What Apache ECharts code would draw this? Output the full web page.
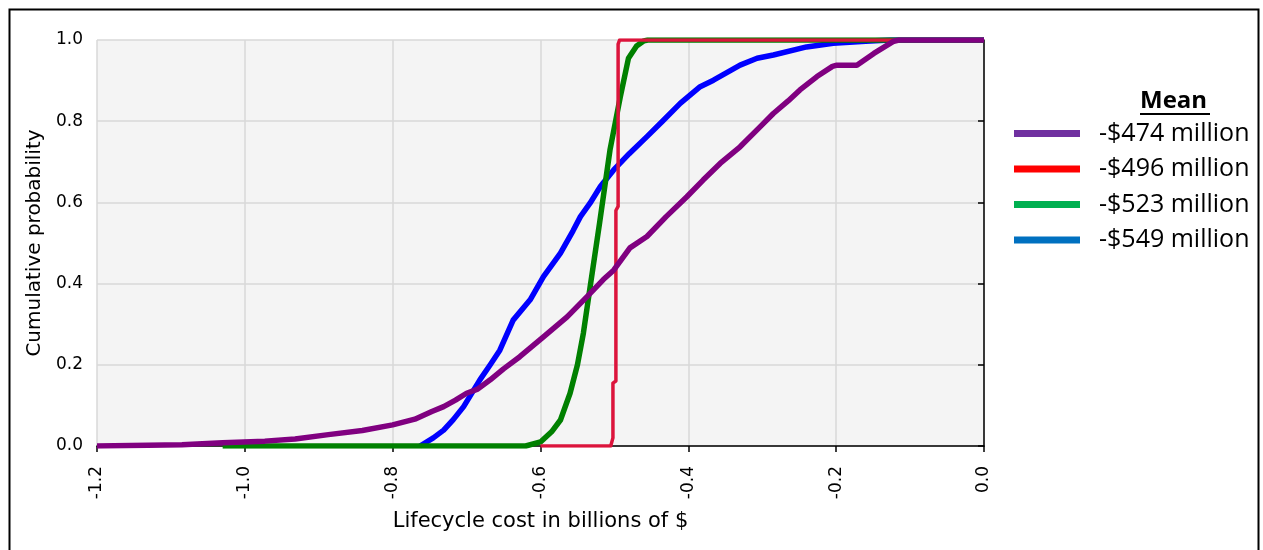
<!DOCTYPE html>
<html>
<head>
<meta charset="utf-8">
<script src="https://cdn.jsdelivr.net/npm/echarts@6/dist/echarts.min.js"></script>
<style>
  html, body { margin: 0; padding: 0; background: #fff; }
  #chart { width: 1263px; height: 550px; }
</style>
</head>
<body>
<div id="chart"></div>
<script>
// x ticks (billions of $) and legend labels
const xTicks = [-1.2, -1.0, -0.8, -0.6, -0.4, -0.2, 0.0]
const meanLabels = ['-$474 million', '-$496 million', '-$523 million', '-$549 million']

// purple  (-$474 million)
const purpleX = [-1.2, -1.085, -1.03, -0.973, -0.932, -0.887, -0.841, -0.8, -0.77, -0.747, -0.731, -0.715, -0.7, -0.685, -0.668, -0.65, -0.628, -0.596, -0.564, -0.537, -0.515, -0.501, -0.479, -0.456, -0.43, -0.402, -0.38, -0.357, -0.33, -0.303, -0.285, -0.265, -0.249, -0.226, -0.205, -0.199, -0.172, -0.149, -0.122, -0.115, 0]
const purpleY = [0, 0.003, 0.008, 0.012, 0.017, 0.028, 0.038, 0.052, 0.066, 0.085, 0.097, 0.113, 0.13, 0.14, 0.163, 0.19, 0.22, 0.269, 0.318, 0.368, 0.41, 0.433, 0.488, 0.516, 0.565, 0.614, 0.655, 0.696, 0.737, 0.786, 0.819, 0.85, 0.877, 0.91, 0.935, 0.938, 0.938, 0.967, 0.997, 1, 1]

// red  (-$496 million)
const redX = [-0.6, -0.505, -0.502, -0.502, -0.498, -0.498, -0.495, -0.495, -0.493, 0]
const redY = [0, 0, 0.02, 0.155, 0.16, 0.58, 0.59, 0.99, 1, 1]

// green  (-$523 million)
const greenX = [-1.03, -0.62, -0.6, -0.585, -0.573, -0.56, -0.55, -0.542, -0.533, -0.52, -0.506, -0.492, -0.481, -0.47, -0.46, -0.455, 0]
const greenY = [0, 0, 0.01, 0.035, 0.064, 0.13, 0.2, 0.278, 0.39, 0.55, 0.729, 0.86, 0.955, 0.985, 0.998, 1, 1]

// blue  (-$549 million)
const blueX = [-0.763, -0.745, -0.731, -0.718, -0.704, -0.682, -0.668, -0.655, -0.637, -0.614, -0.596, -0.573, -0.556, -0.546, -0.533, -0.519, -0.501, -0.48, -0.456, -0.435, -0.411, -0.384, -0.366, -0.33, -0.307, -0.285, -0.24, -0.204, -0.16, -0.127, 0]
const blueY = [0, 0.02, 0.039, 0.065, 0.097, 0.163, 0.2, 0.236, 0.31, 0.36, 0.417, 0.475, 0.53, 0.565, 0.598, 0.639, 0.68, 0.72, 0.762, 0.8, 0.844, 0.885, 0.901, 0.938, 0.955, 0.963, 0.983, 0.992, 0.997, 1, 1]

const zip = (xs, ys) => xs.map((x, i) => [x, ys[i]])

const axisFont = 'DejaVu Sans'
const legendFont = 'Open Sans'

function lineSeries(name, xs, ys, color, width) {
  return {
    name: name,
    type: 'line',
    data: zip(xs, ys),
    showSymbol: false,
    symbol: 'none',
    animation: false,
    itemStyle: { color: color },
    lineStyle: { color: color, width: width, join: 'round' }
  }
}

const option = {
  animation: false,
  grid: {
    left: 97, right: 279, top: 40, bottom: 104,
    show: true, backgroundColor: '#f4f4f4', borderWidth: 0
  },
  xAxis: {
    type: 'value',
    min: xTicks[0],
    max: xTicks[xTicks.length - 1],
    interval: 0.2,
    name: 'Lifecycle cost in billions of $',
    nameLocation: 'middle',
    nameGap: 65,
    nameTextStyle: { fontFamily: axisFont, fontSize: 21, color: '#000' },
    axisLine: { show: true, onZero: false, lineStyle: { color: '#000', width: 1.5 } },
    axisTick: { show: true, length: 6, lineStyle: { color: '#000', width: 1.5 } },
    axisLabel: {
      rotate: 90, margin: 20, color: '#000', fontFamily: axisFont, fontSize: 17,
      formatter: v => v.toFixed(1)
    },
    splitLine: { show: true, lineStyle: { color: '#d9d9d9', width: 1.5 } }
  },
  yAxis: {
    type: 'value',
    min: 0, max: 1, interval: 0.2,
    name: 'Cumulative probability',
    nameLocation: 'middle',
    nameGap: 52,
    nameTextStyle: { fontFamily: axisFont, fontSize: 20, color: '#000' },
    axisLine: { show: true, lineStyle: { color: '#000', width: 1.5 } },
    axisTick: { show: true, length: 6, lineStyle: { color: '#000', width: 1.5 } },
    axisLabel: {
      margin: 14, color: '#000', fontFamily: axisFont, fontSize: 17,
      formatter: v => v.toFixed(1)
    },
    splitLine: { show: true, lineStyle: { color: '#d9d9d9', width: 1.5 } }
  },
  legend: {
    orient: 'vertical',
    left: 1009,
    top: 116,
    itemWidth: 66,
    itemHeight: 7,
    itemGap: 10.5,
    icon: 'rect',
    selectedMode: false,
    textStyle: { fontFamily: legendFont, fontSize: 25, color: '#000', padding: [0, 0, 0, 14] },
    data: [
      { name: meanLabels[0], itemStyle: { color: '#7030a0' } },
      { name: meanLabels[1], itemStyle: { color: '#ff0000' } },
      { name: meanLabels[2], itemStyle: { color: '#00b050' } },
      { name: meanLabels[3], itemStyle: { color: '#0070c0' } }
    ]
  },
  graphic: [
    {
      type: 'rect', left: 7, top: 7, silent: true,
      shape: { width: 1249, height: 600 },
      style: { fill: 'none', stroke: '#000', lineWidth: 2 }
    },
    {
      type: 'text', left: 1140, top: 89,
      style: { text: 'Mean', fill: '#000', font: 'bold 24px "Open Sans"' }
    },
    {
      type: 'line', silent: true,
      shape: { x1: 1140, y1: 114, x2: 1210, y2: 114 },
      style: { stroke: '#000', lineWidth: 2 }
    }
  ],
  series: [
    lineSeries(meanLabels[3], blueX, blueY, '#0000ff', 5.5),
    lineSeries(meanLabels[2], greenX, greenY, '#008000', 5.5),
    lineSeries(meanLabels[1], redX, redY, '#dc143c', 3.5),
    lineSeries(meanLabels[0], purpleX, purpleY, '#800080', 5.5)
  ]
}

const chart = echarts.init(document.getElementById('chart'))
chart.setOption(option)
</script>
</body>
</html>
